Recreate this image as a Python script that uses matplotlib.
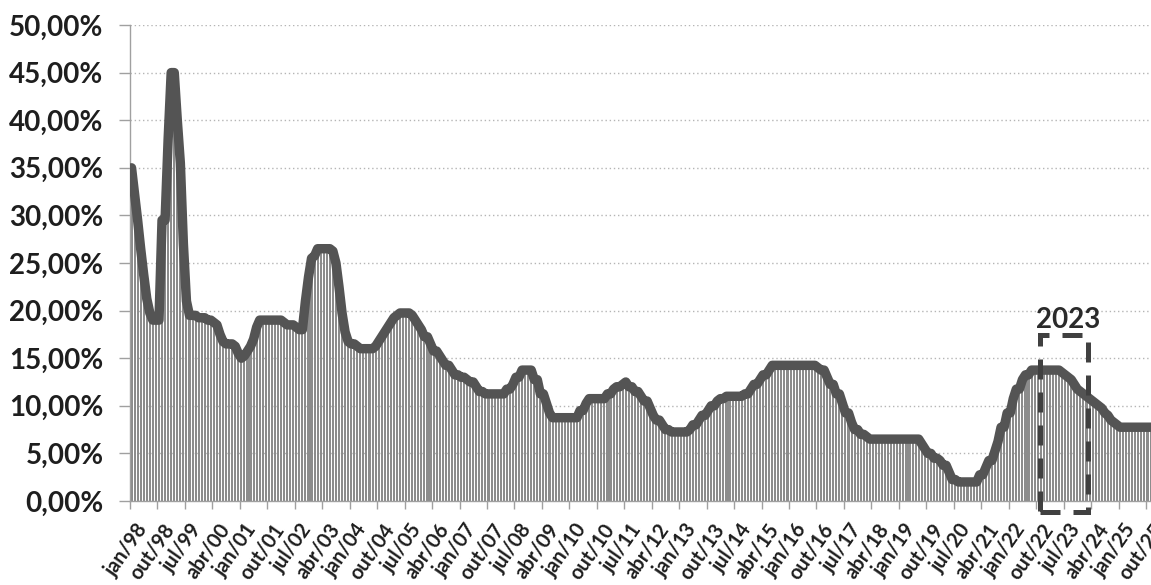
import matplotlib
matplotlib.use("Agg")
import matplotlib.pyplot as plt
import matplotlib.transforms as mtransforms
from matplotlib.patches import Rectangle
import numpy as np

# ---- data: monthly interest rate (%), jan/1998 .. dez/2025 ----
rate_1998 = [35.0, 32.25, 29.5, 26.5, 23.75, 21.25, 19.75, 19.0, 19.0, 19.0, 29.5, 29.5]
rate_1999 = [38.0, 45.0, 45.0, 40.0, 35.5, 27.0, 21.0, 19.5, 19.5, 19.5, 19.25, 19.25]
rate_2000 = [19.25, 19.0, 19.0, 18.75, 18.5, 17.5, 16.75, 16.5, 16.5, 16.5, 16.25, 15.5]
rate_2001 = [15.0, 15.25, 15.75, 16.25, 17.0, 18.25, 19.0, 19.0, 19.0, 19.0, 19.0, 19.0]
rate_2002 = [19.0, 19.0, 18.75, 18.5, 18.5, 18.5, 18.25, 18.0, 18.0, 21.0, 23.5, 25.5]
rate_2003 = [25.75, 26.5, 26.5, 26.5, 26.5, 26.5, 26.25, 25.0, 22.5, 19.75, 17.75, 16.75]
rate_2004 = [16.5, 16.5, 16.25, 16.0, 16.0, 16.0, 16.0, 16.0, 16.25, 16.75, 17.25, 17.75]
rate_2005 = [18.25, 18.75, 19.25, 19.5, 19.75, 19.75, 19.75, 19.75, 19.5, 19.0, 18.5, 18.0]
rate_2006 = [17.25, 17.25, 16.5, 15.75, 15.75, 15.25, 14.75, 14.25, 14.25, 13.75, 13.25, 13.25]
rate_2007 = [13.0, 13.0, 12.75, 12.5, 12.5, 12.0, 11.5, 11.5, 11.25, 11.25, 11.25, 11.25]
rate_2008 = [11.25, 11.25, 11.25, 11.75, 11.75, 12.25, 13.0, 13.0, 13.75, 13.75, 13.75, 13.75]
rate_2009 = [12.75, 12.75, 11.25, 11.25, 10.25, 9.25, 8.75, 8.75, 8.75, 8.75, 8.75, 8.75]
rate_2010 = [8.75, 8.75, 8.75, 9.5, 9.5, 10.25, 10.75, 10.75, 10.75, 10.75, 10.75, 10.75]
rate_2011 = [11.25, 11.25, 11.75, 12.0, 12.0, 12.25, 12.5, 12.0, 12.0, 11.5, 11.5, 11.0]
rate_2012 = [10.5, 10.5, 9.75, 9.0, 8.5, 8.5, 8.0, 7.5, 7.5, 7.25, 7.25, 7.25]
rate_2013 = [7.25, 7.25, 7.25, 7.5, 8.0, 8.0, 8.5, 9.0, 9.0, 9.5, 10.0, 10.0]
rate_2014 = [10.5, 10.75, 10.75, 11.0, 11.0, 11.0, 11.0, 11.0, 11.0, 11.25, 11.25, 11.75]
rate_2015 = [12.25, 12.25, 12.75, 13.25, 13.25, 13.75, 14.25, 14.25, 14.25, 14.25, 14.25, 14.25]
rate_2016 = [14.25, 14.25, 14.25, 14.25, 14.25, 14.25, 14.25, 14.25, 14.25, 14.0, 13.75, 13.75]
rate_2017 = [13.0, 12.25, 12.25, 11.25, 11.25, 10.25, 9.25, 9.25, 8.25, 7.5, 7.5, 7.0]
rate_2018 = [7.0, 6.75, 6.5, 6.5, 6.5, 6.5, 6.5, 6.5, 6.5, 6.5, 6.5, 6.5]
rate_2019 = [6.5, 6.5, 6.5, 6.5, 6.5, 6.5, 6.5, 6.0, 5.5, 5.0, 5.0, 4.5]
rate_2020 = [4.5, 4.25, 3.75, 3.75, 3.0, 2.25, 2.25, 2.0, 2.0, 2.0, 2.0, 2.0]
rate_2021 = [2.0, 2.0, 2.75, 2.75, 3.5, 4.25, 4.25, 5.25, 6.25, 7.75, 7.75, 9.25]
rate_2022 = [9.25, 10.75, 11.75, 11.75, 12.75, 13.25, 13.25, 13.75, 13.75, 13.75, 13.75, 13.75]
rate_2023 = [13.75, 13.75, 13.75, 13.75, 13.75, 13.5, 13.25, 13.0, 12.75, 12.25, 11.75, 11.5]
rate_2024 = [11.25, 11.0, 10.75, 10.5, 10.25, 10.0, 9.75, 9.25, 9.0, 8.5, 8.25, 8.0]
rate_2025 = [7.75, 7.75, 7.75, 7.75, 7.75, 7.75, 7.75, 7.75, 7.75, 7.75, 7.75, 7.75]

x_tick_labels = ["jan/98", "out/98", "jul/99", "abr/00", "jan/01", "out/01", "jul/02",
                 "abr/03", "jan/04", "out/04", "jul/05", "abr/06", "jan/07", "out/07",
                 "jul/08", "abr/09", "jan/10", "out/10", "jul/11", "abr/12", "jan/13",
                 "out/13", "jul/14", "abr/15", "jan/16", "out/16", "jul/17", "abr/18",
                 "jan/19", "out/19", "jul/20", "abr/21", "jan/22", "out/22", "jul/23",
                 "abr/24", "jan/25", "out/25"]
y_ticks = [0, 5, 10, 15, 20, 25, 30, 35, 40, 45, 50]
y_tick_labels = ["0,00%", "5,00%", "10,00%", "15,00%", "20,00%", "25,00%",
                 "30,00%", "35,00%", "40,00%", "45,00%", "50,00%"]
highlight_label = "2023"

values = np.array(rate_1998 + rate_1999 + rate_2000 + rate_2001 + rate_2002 + rate_2003 +
                  rate_2004 + rate_2005 + rate_2006 + rate_2007 + rate_2008 + rate_2009 +
                  rate_2010 + rate_2011 + rate_2012 + rate_2013 + rate_2014 + rate_2015 +
                  rate_2016 + rate_2017 + rate_2018 + rate_2019 + rate_2020 + rate_2021 +
                  rate_2022 + rate_2023 + rate_2024 + rate_2025)
months = np.arange(len(values))
xc = months + 0.5

plt.rcParams["font.family"] = ["Lato", "DejaVu Sans"]

W, H = 1151, 585
fig = plt.figure(figsize=(W / 100, H / 100), dpi=100)
fig.patch.set_facecolor("white")
ax = fig.add_axes([130 / W, 84 / H, 1021 / W, 476 / H])

ax.bar(xc, values, width=0.68, color="#8c8c8c", linewidth=0, zorder=2)
ax.plot(xc, values, color="#545454", lw=6.8, solid_joinstyle="round",
        solid_capstyle="round", zorder=3)

ax.set_xlim(0, 1021 / 3.051)
ax.set_ylim(0, 50)

ax.set_yticks(y_ticks)
ax.set_yticklabels(y_tick_labels, fontsize=20, fontweight="bold", color="#1e1e1e")
ax.yaxis.grid(True, linestyle=(0, (1, 2)), color="#b5b5b5", lw=1, zorder=0)
ax.set_axisbelow(True)

tick_pos = np.arange(len(x_tick_labels)) * 9
ax.set_xticks(tick_pos)
ax.set_xticklabels([""] * len(tick_pos))
ax.tick_params(axis="y", length=8, width=1, color="#a0a0a0", pad=11)
ax.tick_params(axis="x", length=6, width=1, color="#a0a0a0")

# rotated month labels placed explicitly below each tick
lab_trans = ax.get_xaxis_transform() + mtransforms.ScaledTranslation(
    5 / 100, -19 / 100, fig.dpi_scale_trans)
for pos, lab in zip(tick_pos, x_tick_labels):
    ax.text(pos, 0, lab, transform=lab_trans, rotation=55, rotation_mode="anchor",
            ha="right", va="top", fontsize=14.5, fontweight="bold", color="#1e1e1e",
            clip_on=False)

for s in ["top", "right"]:
    ax.spines[s].set_visible(False)
for s in ["left", "bottom"]:
    ax.spines[s].set_color("#a0a0a0")
    ax.spines[s].set_linewidth(1)

# dashed highlight box for 2023
rect = Rectangle((298.4, -1.2), 15.7, 18.6, fill=False, edgecolor="#404040",
                 linewidth=3.6, linestyle=(0, (4, 2.6)), clip_on=False, zorder=5)
ax.add_patch(rect)
ax.text(307.4, 19.0, highlight_label, ha="center", va="center", fontsize=20,
        fontweight="bold", color="#2a2a2a", zorder=6)

fig.savefig("out.png", dpi=100, facecolor="white")
